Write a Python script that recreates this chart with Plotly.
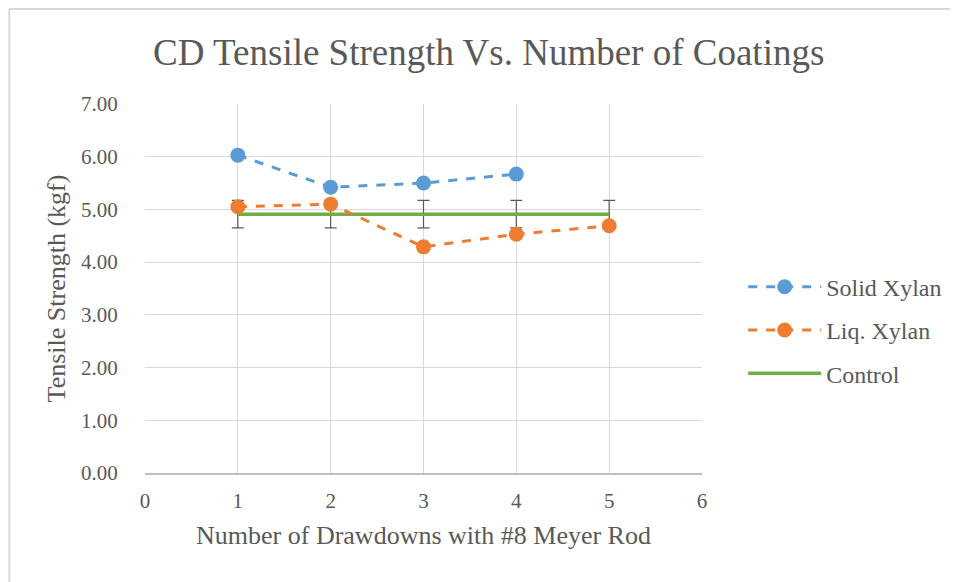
import plotly.graph_objects as go

x_solid = [1, 2, 3, 4]
y_solid = [6.03, 5.42, 5.50, 5.67]
x_liq = [1, 2, 3, 4, 5]
y_liq = [5.05, 5.10, 4.29, 4.53, 4.69]
x_ctrl = [1, 2, 3, 4, 5]
y_ctrl = [4.91, 4.91, 4.91, 4.91, 4.91]
err_ctrl = [0.26, 0.26, 0.26, 0.26, 0.26]
x_ticks = [0, 1, 2, 3, 4, 5, 6]
y_ticks = [0, 1, 2, 3, 4, 5, 6, 7]

font = "Liberation Serif, DejaVu Serif, serif"
W, H = 950, 574
ML, MR, MT, MB = 137, 255, 96, 109
PW = W - ML - MR
PH = H - MT - MB

fig = go.Figure()
fig.add_trace(go.Scatter(
    x=x_ctrl, y=y_ctrl, name="Control", mode="lines",
    line=dict(color="#70ad47", width=3.5),
    error_y=dict(type="data", array=err_ctrl, color="#595959", thickness=1.2, width=6),
    legendrank=3, legendgroup="c",
))
fig.add_trace(go.Scatter(
    x=x_solid, y=y_solid, name="Solid Xylan", mode="lines+markers",
    line=dict(color="#5b9bd5", width=3, dash="dash"),
    marker=dict(color="#5b9bd5", size=15),
    legendrank=1, legendgroup="s",
))
fig.add_trace(go.Scatter(
    x=x_liq, y=y_liq, name="Liq. Xylan", mode="lines+markers",
    line=dict(color="#ed7d31", width=3, dash="dash"),
    marker=dict(color="#ed7d31", size=15),
    legendrank=2, legendgroup="l",
))

fig.update_layout(
    width=W, height=H,
    margin=dict(l=ML, r=MR, t=MT, b=MB),
    paper_bgcolor="white", plot_bgcolor="white",
    font=dict(family=font, color="#595959"),
    title=dict(text="CD Tensile Strength Vs. Number of Coatings",
               x=0.506, xanchor="center", xref="container",
               y=1 - 44 / H, yanchor="middle",
               font=dict(size=37, color="#595959", family=font)),
    showlegend=True,
    legend=dict(x=1.072, xanchor="left", y=0.387, yanchor="middle",
                font=dict(size=24, color="#595959", family=font),
                tracegroupgap=9, itemwidth=73, bgcolor="rgba(0,0,0,0)"),
    xaxis=dict(range=[0, 6], tickvals=x_ticks, ticktext=[str(v) for v in x_ticks],
               showgrid=True, gridcolor="#d9d9d9", gridwidth=1,
               showline=True, linecolor="#bfbfbf", linewidth=1.5,
               zeroline=False, ticks="outside", ticklen=8, tickcolor="rgba(0,0,0,0)",
               tickfont=dict(size=21, color="#595959", family=font),
               title=dict(text="Number of Drawdowns with #8 Meyer Rod",
                          font=dict(size=26, color="#595959", family=font),
                          standoff=14)),
    yaxis=dict(range=[0, 7], tickvals=y_ticks, ticktext=["%.2f" % v for v in y_ticks],
               showgrid=True, gridcolor="#d9d9d9", gridwidth=1,
               zeroline=False, showline=False,
               ticks="outside", ticklen=22, tickcolor="rgba(0,0,0,0)",
               tickfont=dict(size=21, color="#595959", family=font),
               title=dict(text="Tensile Strength (kgf)",
                          font=dict(size=26, color="#595959", family=font),
                          standoff=7)),
    shapes=[
        dict(type="line", xref="paper", yref="paper",
             x0=-(ML - 1) / PW, x1=(W - ML + 10) / PW,
             y0=1 + (MT - 1) / PH, y1=1 + (MT - 1) / PH,
             line=dict(color="#d9d9d9", width=2)),
        dict(type="line", xref="paper", yref="paper",
             x0=-(ML - 1) / PW, x1=-(ML - 1) / PW,
             y0=1 + (MT - 1) / PH, y1=-(MB + 10) / PH,
             line=dict(color="#d9d9d9", width=2)),
    ],
)

fig.write_html("out.html")
